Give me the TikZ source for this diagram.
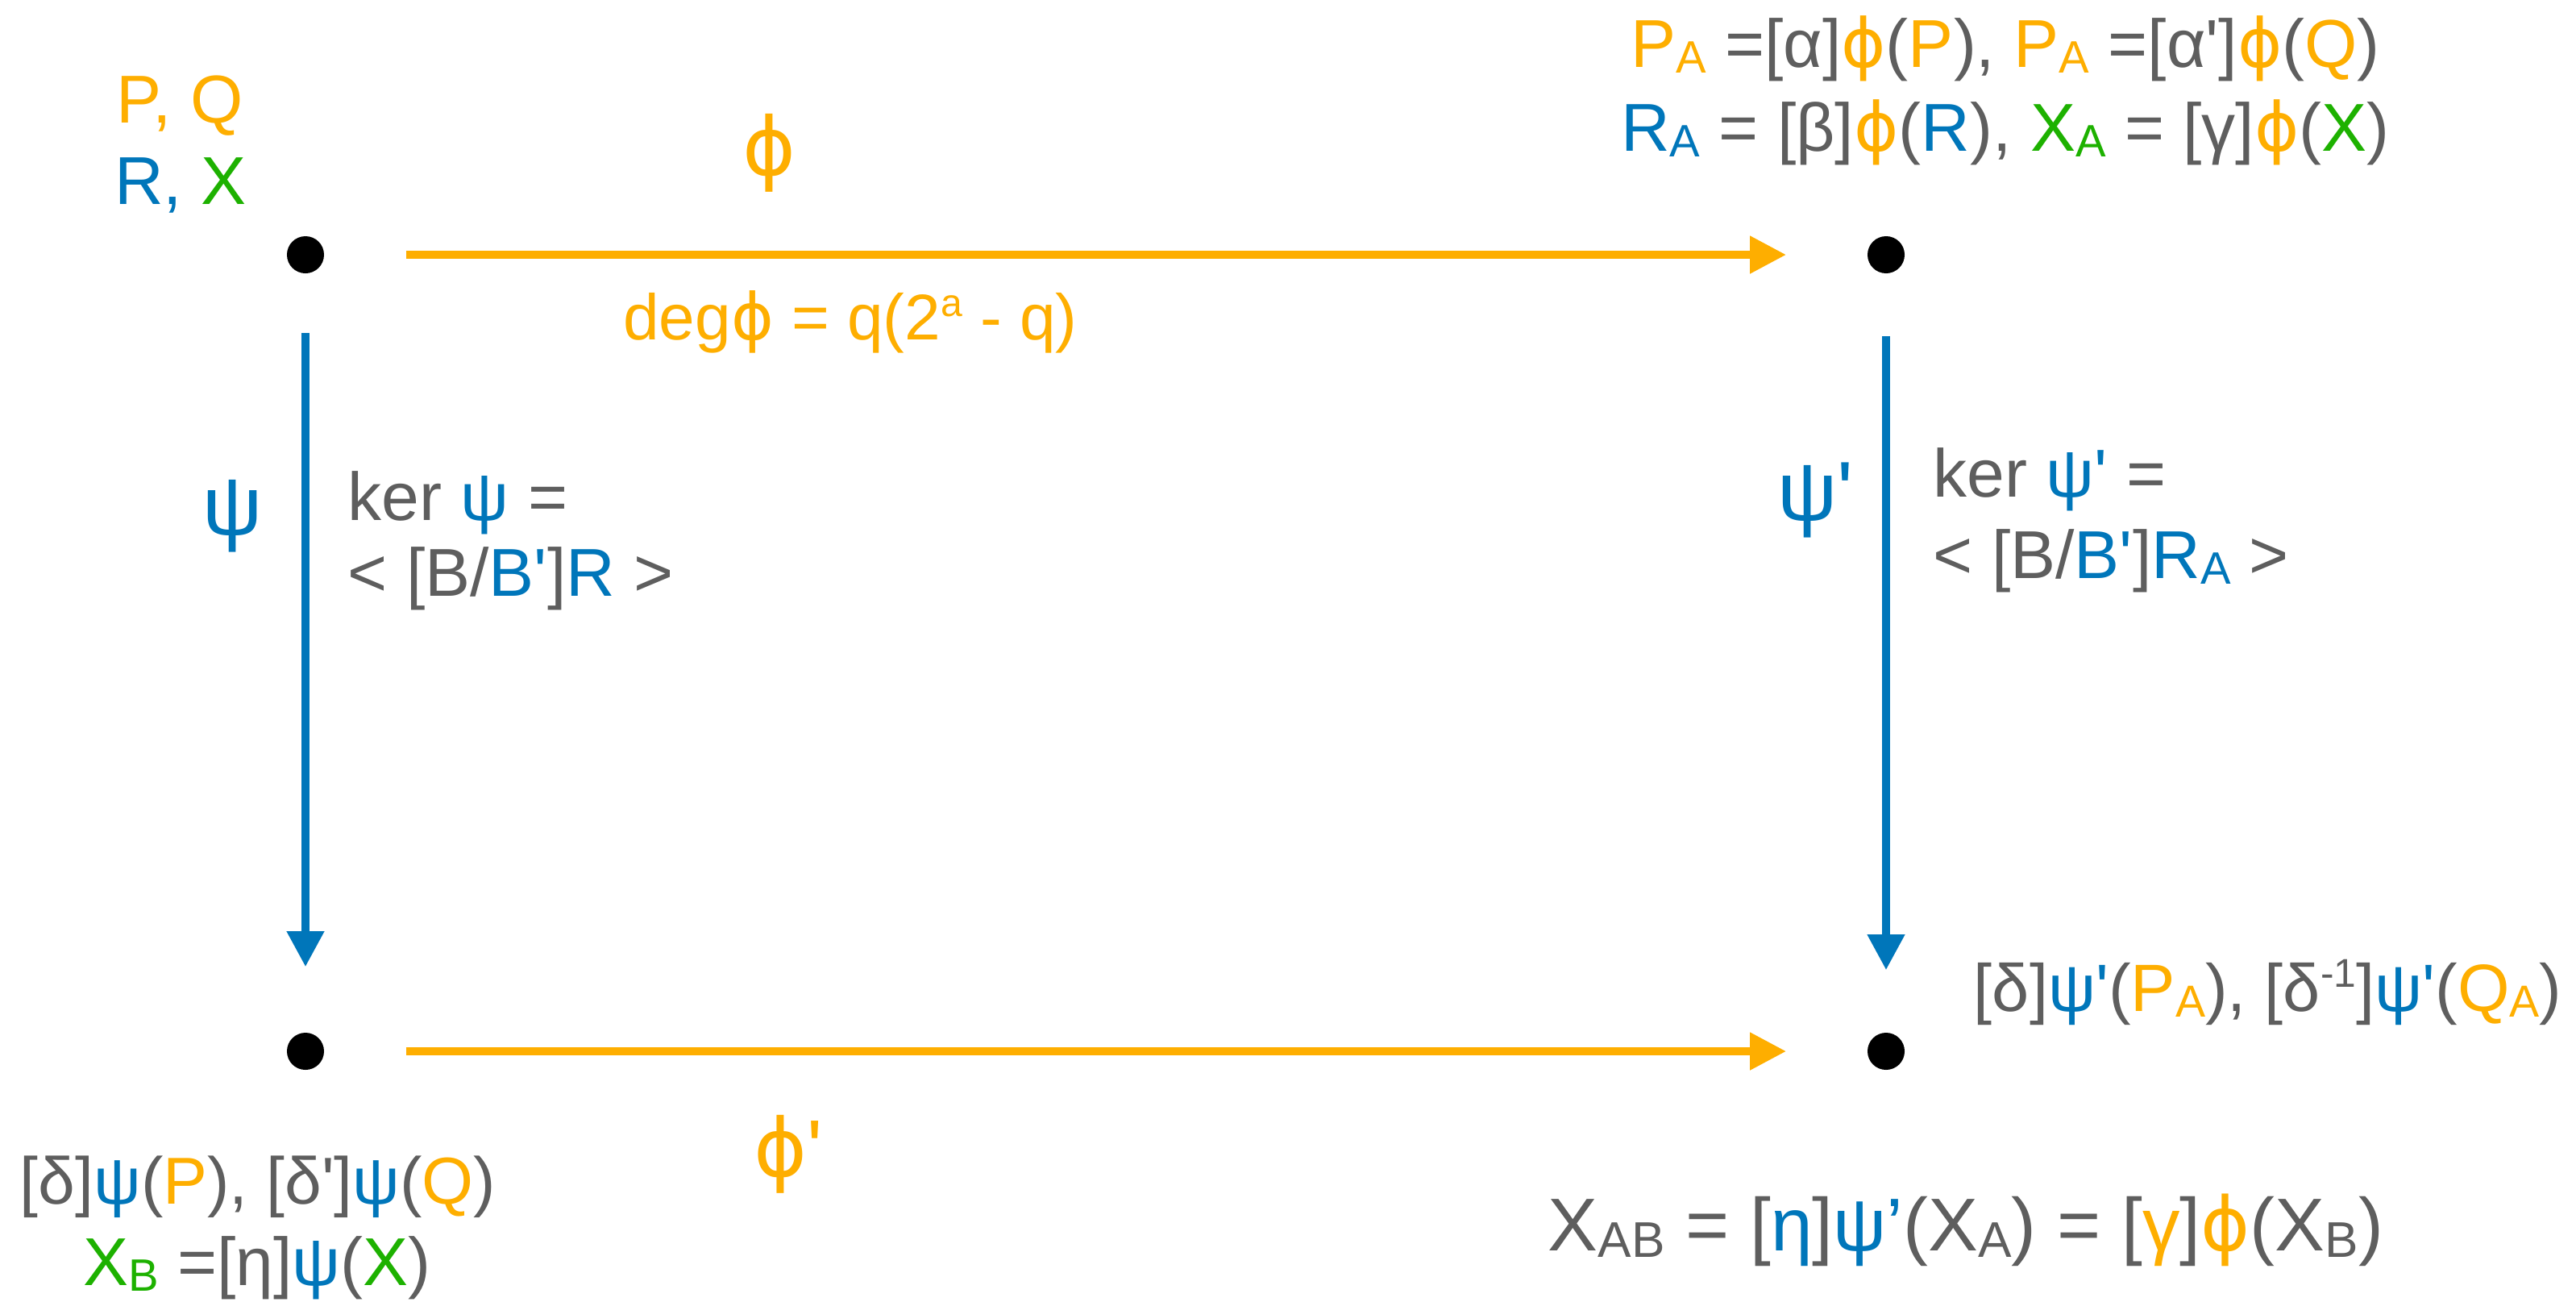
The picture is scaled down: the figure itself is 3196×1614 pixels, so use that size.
\documentclass[tikz,border=0pt]{standalone}
\usepackage{fontspec}
\setmainfont{Liberation Sans}[Ligatures=TeXOff]
\newfontfamily\kphifont{DejaVu Sans}
\usepackage{graphicx}
\usetikzlibrary{arrows.meta}
\definecolor{kor}{HTML}{FEAE00}
\definecolor{kbl}{HTML}{0076BA}
\definecolor{kgr}{HTML}{1DB100}
\definecolor{kgy}{HTML}{5E5E5E}
\newcommand{\kO}[1]{\textcolor{kor}{#1}}
\newcommand{\kB}[1]{\textcolor{kbl}{#1}}
\newcommand{\kG}[1]{\textcolor{kgr}{#1}}
\newcommand{\kS}[1]{\raisebox{-0.09em}{\scalebox{0.67}{#1}}}
\newcommand{\kU}[1]{\raisebox{0.36em}{\scalebox{0.6}{#1}}}
\newcommand{\kph}{{\kphifont ϕ}}
\begin{document}
\begin{tikzpicture}[x=0.01cm,y=-0.01cm,
  dot/.style={circle,fill=black,inner sep=0pt,minimum size=0.46cm},
  harr/.style={draw=kor,line width=0.105cm,-{Triangle[length=0.45cm,width=0.44cm]},shorten <=1.01cm,shorten >=1.0cm},
  varr/.style={draw=kbl,line width=0.1cm,-{Triangle[length=0.44cm,width=0.44cm]}},
  txt/.style={inner sep=0pt,text=kgy,anchor=base,font=\fontsize{23.9pt}{28pt}\selectfont},
  txtw/.style={txt,anchor=base west},
  big/.style={inner sep=0pt,anchor=base,font=\fontsize{28.5pt}{32pt}\selectfont}]
\useasboundingbox (0,0) rectangle (3196,1614);
% dots
\node[dot] (a) at (379,316) {};
\node[dot] (b) at (2340,316) {};
\node[dot] (c) at (379,1304) {};
\node[dot] (d) at (2340,1304) {};
% connectors
\draw[harr] (a) -- (b);
\draw[harr] (c) -- (d);
\draw[varr,shorten <=0.73cm,shorten >=0.81cm] (a) -- (c);
\draw[varr,shorten <=0.77cm,shorten >=0.77cm] (b) -- (d);
% top-left labels
\node[txt] (pq) at (223,152) {\kO{P, Q}};
\node[txt] (rx) at (224,253) {\kB{R,} \kG{X}};
% phi label
\node[big,text=kor] (phi) at (955,217) {\kph};
\node[txt,text=kor,font=\fontsize{22.8pt}{26pt}\selectfont] (deg) at (1055,421) {deg\kph{} = q(2\kU{a} - q)};
% top right
\node[txt] (tr1) at (2488,83) {\kO{P\kS{A}} =[α]\kO{\kph}(\kO{P}), \kO{P\kS{A}} =[α']\kO{\kph}(\kO{Q})};
\node[txt] (tr2) at (2488,187) {\kB{R\kS{A}} = [β]\kO{\kph}(\kB{R}), \kG{X\kS{A}} = [γ]\kO{\kph}(\kG{X})};
% psi left
\node[big,text=kbl,font=\fontsize{29.6pt}{33pt}\selectfont] (psi) at (289,663) {ψ};
\node[txtw] (k1) at (431,645) {ker \kB{ψ} =};
\node[txtw] (k2) at (431,739) {< [B/\kB{B'}]\kB{R} >};
% psi right
\node[big,anchor=base west,text=kbl,font=\fontsize{29.6pt}{33pt}\selectfont] (psip) at (2205,645) {ψ'};
\node[txtw] (k3) at (2398,616) {ker \kB{ψ'} =};
\node[txtw] (k4) at (2398,717) {< [B/\kB{B'}]\kB{R\kS{A}} >};
% bottom right image of P,Q
\node[txtw,font=\fontsize{23.6pt}{28pt}\selectfont] (br1) at (2448,1254) {[δ]\kB{ψ'}(\kO{P\kS{A}}), [δ\kU{-1}]\kB{ψ'}(\kO{Q\kS{A}})};
% phi prime
\node[big,anchor=base west,text=kor] (phip) at (935,1459) {\kph'};
% bottom left
\node[txt,font=\fontsize{23.4pt}{28pt}\selectfont] (bl1) at (320,1493) {[δ]\kB{ψ}(\kO{P}), [δ']\kB{ψ}(\kO{Q})};
\node[txt] (bl2) at (319,1594) {\kG{X\kS{B}} =[η]\kB{ψ}(\kG{X})};
% bottom right formula
\node[txtw,font=\fontsize{26.4pt}{30pt}\selectfont] (xab) at (1920,1551) {X\kS{AB} = [\kB{η}]\kB{ψ’}(X\kS{A}) = [\kO{γ}]\kO{\kph}(X\kS{B})};
\end{tikzpicture}
\end{document}
